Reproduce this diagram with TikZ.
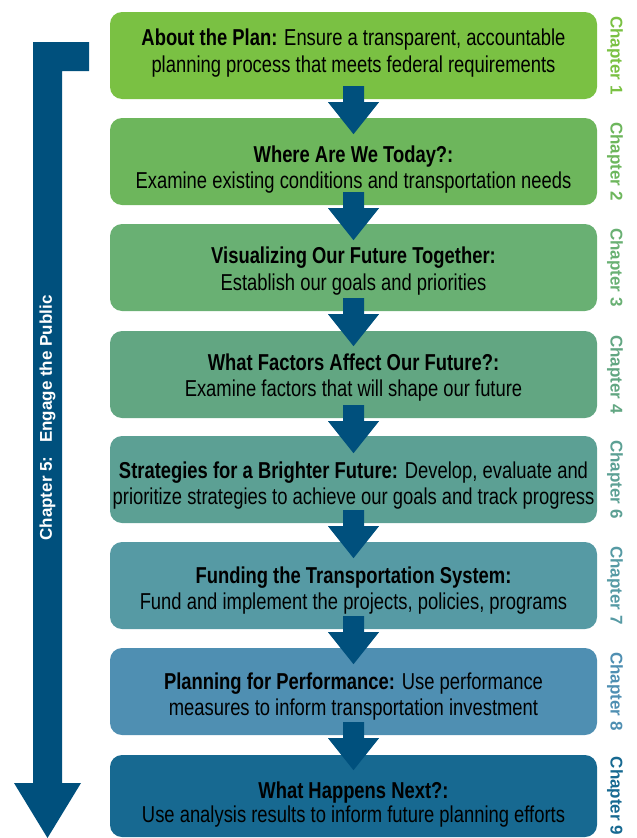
\documentclass[tikz,border=0pt]{standalone}
\usepackage{fontspec}
\setmainfont{Liberation Sans}[FakeStretch=0.8]
\newfontfamily\chapfont{Liberation Sans}
\usetikzlibrary{calc}
\definecolor{cA}{RGB}{122,193,67}
\definecolor{cB}{RGB}{109,182,92}
\definecolor{cC}{RGB}{105,176,115}
\definecolor{cD}{RGB}{98,166,130}
\definecolor{cE}{RGB}{92,160,148}
\definecolor{cF}{RGB}{86,154,164}
\definecolor{cG}{RGB}{79,143,178}
\definecolor{cH}{RGB}{23,105,145}
\definecolor{arrowc}{RGB}{0,80,125}
\newcommand\stagearrow[1]{%
  \fill[arrowc] ($(#1.south)+(-10.5,-13)$) -- ($(#1.south)+(10.5,-13)$)
    -- ($(#1.south)+(10.5,3)$) -- ($(#1.south)+(25.5,3)$)
    -- ($(#1.south)+(0,35)$) -- ($(#1.south)+(-25.5,3)$)
    -- ($(#1.south)+(-10.5,3)$) -- cycle;}
\begin{document}
\begin{tikzpicture}[x=1pt,y=-1pt,
  stagebox/.style={rectangle, rounded corners=12pt, minimum width=487pt,
    minimum height=87pt, inner sep=0pt, draw=none},
  stageline/.style={anchor=base, inner sep=0pt, text=black,
    font=\fontsize{23}{27}\selectfont},
  chaplabel/.style={rotate=-90, inner sep=0pt,
    font=\chapfont\bfseries\fontsize{17}{20}\selectfont}]
\useasboundingbox (0,0) rectangle (637,838);

% stage boxes
\node[stagebox, fill=cA] (b1) at (353.5,55.5) {};
\node[stagebox, fill=cB] (b2) at (353.5,161.5) {};
\node[stagebox, fill=cC] (b3) at (353.5,267.5) {};
\node[stagebox, fill=cD] (b4) at (353.5,374.5) {};
\node[stagebox, fill=cE] (b5) at (353.5,479.5) {};
\node[stagebox, fill=cF] (b6) at (353.5,585.5) {};
\node[stagebox, fill=cG] (b7) at (353.5,691.5) {};
\node[stagebox, fill=cH, minimum height=82pt] (b8) at (353.5,796) {};

% connecting block arrows
\stagearrow{b1}
\stagearrow{b2}
\stagearrow{b3}
\stagearrow{b4}
\stagearrow{b5}
\stagearrow{b6}
\stagearrow{b7}

% texts
\node[stageline] (t1a) at (353.5,45) {\textbf{About the Plan:} Ensure a transparent, accountable};
\node[stageline] (t1b) at (353.5,72) {planning process that meets federal requirements};
\node[stageline] (t2a) at (353.5,162) {\textbf{Where Are We Today?:}};
\node[stageline] (t2b) at (353.5,188) {Examine existing conditions and transportation needs};
\node[stageline] (t3a) at (353.5,263) {\textbf{Visualizing Our Future Together:}};
\node[stageline] (t3b) at (353.5,290) {Establish our goals and priorities};
\node[stageline] (t4a) at (353.5,370) {\textbf{What Factors Affect Our Future?:}};
\node[stageline] (t4b) at (353.5,396) {Examine factors that will shape our future};
\node[stageline] (t5a) at (353.5,478) {\textbf{Strategies for a Brighter Future:} Develop, evaluate and};
\node[stageline] (t5b) at (353.5,504) {prioritize strategies to achieve our goals and track progress};
\node[stageline] (t6a) at (353.5,583) {\textbf{Funding the Transportation System:}};
\node[stageline] (t6b) at (353.5,609) {Fund and implement the projects, policies, programs};
\node[stageline] (t7a) at (353.5,689) {\textbf{Planning for Performance:} Use performance};
\node[stageline] (t7b) at (353.5,715) {measures to inform transportation investment};
\node[stageline] (t8a) at (353.5,798) {\textbf{What Happens Next?:}};
\node[stageline] (t8b) at (353.5,822) {Use analysis results to inform future planning efforts};

% chapter labels
\node[chaplabel, text=cA] (c1) at (615,55.5) {Chapter 1};
\node[chaplabel, text=cB] (c2) at (615,161.5) {Chapter 2};
\node[chaplabel, text=cC] (c3) at (615,267.5) {Chapter 3};
\node[chaplabel, text=cD] (c4) at (615,374.5) {Chapter 4};
\node[chaplabel, text=cE] (c6) at (615,479.5) {Chapter 6};
\node[chaplabel, text=cF] (c7) at (615,585.5) {Chapter 7};
\node[chaplabel, text=cG] (c8) at (615,691.5) {Chapter 8};
\node[chaplabel, text=cH] (c9) at (615,796) {Chapter 9};

% engage-the-public arrow
\fill[arrowc] (89,42) -- (33,42) -- (33,783) -- (14,783) -- (47.5,838)
  -- (81,783) -- (62,783) -- (62,71) -- (89,71) -- cycle;
\node[rotate=90, inner sep=0pt, text=white,
  font=\chapfont\bfseries\fontsize{17}{20}\selectfont] (eng) at (47.5,418)
  {Chapter 5:\hspace{0.8em}Engage the Public};
\end{tikzpicture}
\end{document}
